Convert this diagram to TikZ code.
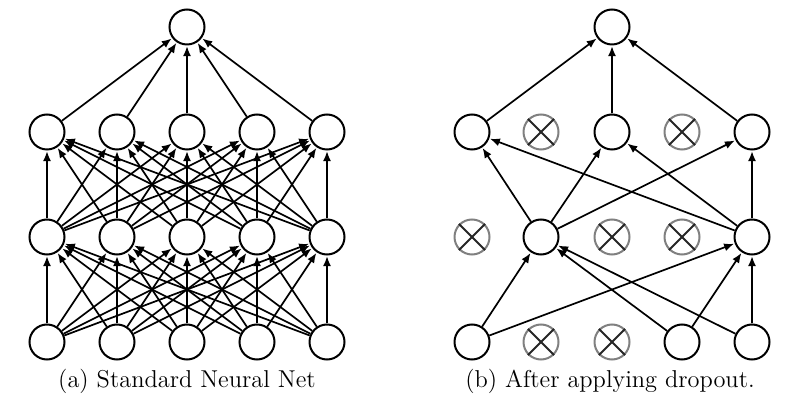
\documentclass[tikz,border=0pt]{standalone}
\usetikzlibrary{arrows.meta}
\begin{document}
\begin{tikzpicture}[x=0.5pt,y=-0.5pt,
  neuron/.style={circle,draw=black,line width=1pt,minimum size=17.5pt,inner sep=0pt,fill=white},
  dropped/.style={circle,draw=black!50,line width=1pt,minimum size=17.5pt,inner sep=0pt,fill=white},
  xmark/.style={line width=1pt,black!85},
  conn/.style={line width=0.85pt,-{Latex[length=5pt,width=4pt]},shorten >=0.3pt},
  caption/.style={font=\fontsize{12.2}{14}\selectfont,inner sep=0pt}]
\useasboundingbox[fill=white] (0,0) rectangle (802,405);
% ---------- (a) standard net ----------
\foreach \j/\x in {1/47,2/117,3/187,4/257,5/327}{
  \node[neuron] (a0\j) at (\x,342) {};
  \node[neuron] (a1\j) at (\x,237) {};
  \node[neuron] (a2\j) at (\x,132) {};
}
\node[neuron] (a3) at (187,27) {};
\foreach \i in {1,...,5}{
  \foreach \j in {1,...,5}{
    \draw[conn] (a0\i) -- (a1\j);
    \draw[conn] (a1\i) -- (a2\j);
  }
  \draw[conn] (a2\i) -- (a3);
}
% ---------- (b) after dropout ----------
\node[neuron] (b01) at (472,342) {};
\node[dropped] (b02) at (541,342) {};
\node[dropped] (b03) at (612,342) {};
\node[neuron] (b04) at (682,342) {};
\node[neuron] (b05) at (752,342) {};
\node[dropped] (b11) at (472,237) {};
\node[neuron] (b12) at (541,237) {};
\node[dropped] (b13) at (612,237) {};
\node[dropped] (b14) at (682,237) {};
\node[neuron] (b15) at (752,237) {};
\node[neuron] (b21) at (472,132) {};
\node[dropped] (b22) at (541,132) {};
\node[neuron] (b23) at (612,132) {};
\node[dropped] (b24) at (682,132) {};
\node[neuron] (b25) at (752,132) {};
\node[neuron] (b3) at (612,27) {};
\foreach \d in {b02,b03,b11,b13,b14,b22,b24}{
  \draw[xmark] (\d.north west) -- (\d.south east);
  \draw[xmark] (\d.north east) -- (\d.south west);
}
\foreach \s in {b01,b04,b05}{
  \draw[conn] (\s) -- (b12);
  \draw[conn] (\s) -- (b15);
}
\foreach \s in {b12,b15}{
  \foreach \t in {b21,b23,b25}{
    \draw[conn] (\s) -- (\t);
  }
}
\foreach \s in {b21,b23,b25}{
  \draw[conn] (\s) -- (b3);
}
% ---------- captions ----------
\node[caption] (capa) at (187,381) {(a) Standard Neural Net};
\node[caption] (capb) at (610,381) {(b) After applying dropout.};
\end{tikzpicture}
\end{document}
